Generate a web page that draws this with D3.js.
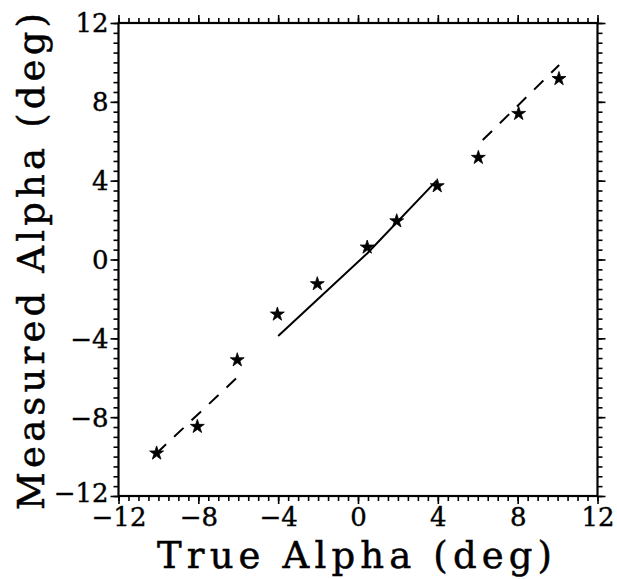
<!DOCTYPE html>
<html>
<head>
<meta charset="utf-8">
<script src="https://cdn.jsdelivr.net/npm/d3@7"></script>
<style>
  body { margin: 0; background: #fff; }
  text { font-family: "DejaVu Serif", "Liberation Serif", serif; fill: #000; }
</style>
</head>
<body>
<svg id="chart"></svg>
<script>
// measured points (stars)
const trueAlpha = [-10.09, -8.05, -6.05, -4.04, -2.04, 0.46, 1.94, 3.97, 6.03, 8.05, 10.07]
const measAlpha = [-9.83, -8.48, -5.1, -2.78, -1.24, 0.62, 1.95, 3.73, 5.17, 7.4, 9.17]

// solid fit line (centre region)
const solidX = [-4.0, 0.47, 3.94]
const solidY = [-3.88, 0.32, 4.0]
// dashed fit lines (outer regions)
const dashLowX = [-10.09, -6.05]
const dashLowY = [-9.83, -5.98]
const dashHighX = [6.25, 10.08]
const dashHighY = [6.06, 9.87]

const tickVals = [-12, -8, -4, 0, 4, 8, 12]
const xTitle = 'True Alpha (deg)'
const yTitle = 'Measured Alpha (deg)'

var w = 617,
  h = 579,
  m = { left: 118.5, right: 19.5, top: 23, bottom: 83 }

var svg = d3.select('#chart').attr('width', w).attr('height', h)

var x = d3.scaleLinear().domain([-12, 12]).range([m.left, w - m.right])
var y = d3.scaleLinear().domain([-12, 12]).range([h - m.bottom, m.top])

var fmt = function(d) { return d < 0 ? '\u2212' + Math.abs(d) : '' + d }
var minor = d3.range(-12, 12.01, 0.5)

// minor + major ticks for one side, all pointing outward
function ticks(axisFn, scale, labels, tr) {
  var side = svg.append('g').attr('transform', tr)
  side.append('g').call(axisFn(scale).tickValues(minor).tickSize(5).tickFormat(''))
  var major = side.append('g')
    .call(axisFn(scale).tickValues(tickVals).tickSize(8).tickPadding(labels ? 8 : 0)
      .tickFormat(labels ? fmt : ''))
  side.selectAll('.domain').remove()
  side.selectAll('line').attr('stroke', '#000').attr('stroke-width', 1.6)
  side.selectAll('text').attr('stroke', '#000').attr('stroke-width', 0.4)
  return major
}

var bottom = ticks(d3.axisBottom, x, true, 'translate(0,' + y(-12) + ')')
bottom.selectAll('text').attr('font-size', 26).attr('dy', null).attr('y', 30)
ticks(d3.axisTop, x, false, 'translate(0,' + y(12) + ')')
var left = ticks(d3.axisLeft, y, true, 'translate(' + x(-12) + ',0)')
left.selectAll('text').attr('font-size', 26).attr('x', -10)
  .attr('dy', function(d) { return d === -12 ? '0.22em' : '0.34em' })
ticks(d3.axisRight, y, false, 'translate(' + x(12) + ',0)')

// frame
svg.append('rect')
  .attr('x', x(-12)).attr('y', y(12))
  .attr('width', x(12) - x(-12)).attr('height', y(-12) - y(12))
  .attr('fill', 'none').attr('stroke', '#000').attr('stroke-width', 2.2)

var line = d3.line().x(function(d) { return x(d[0]) }).y(function(d) { return y(d[1]) })

svg.append('path')
  .attr('d', line(d3.zip(solidX, solidY)))
  .attr('fill', 'none').attr('stroke', '#000').attr('stroke-width', 2)

;[[dashLowX, dashLowY], [dashHighX, dashHighY]].forEach(function(p) {
  svg.append('path')
    .attr('d', line(d3.zip(p[0], p[1])))
    .attr('fill', 'none').attr('stroke', '#000').attr('stroke-width', 2)
    .attr('stroke-dasharray', '13,11')
})

svg.append('g').selectAll('path')
  .data(d3.zip(trueAlpha, measAlpha))
  .join('path')
  .attr('transform', function(d) { return 'translate(' + x(d[0]) + ',' + y(d[1]) + ')' })
  .attr('d', d3.symbol().type(d3.symbolStar).size(60))
  .attr('fill', '#000')
  .attr('stroke', '#000').attr('stroke-width', 0.8).attr('stroke-linejoin', 'round')

// axis titles
svg.append('text')
  .attr('x', 354.5).attr('y', 568)
  .attr('text-anchor', 'middle')
  .attr('font-size', 37)
  .attr('stroke', '#000').attr('stroke-width', 0.5)
  .attr('textLength', 395).attr('lengthAdjust', 'spacing')
  .text(xTitle)

svg.append('text')
  .attr('transform', 'translate(44,261.5)rotate(-90)')
  .attr('text-anchor', 'middle')
  .attr('font-size', 37)
  .attr('stroke', '#000').attr('stroke-width', 0.5)
  .attr('textLength', 497).attr('lengthAdjust', 'spacing')
  .text(yTitle)
</script>
</body>
</html>
